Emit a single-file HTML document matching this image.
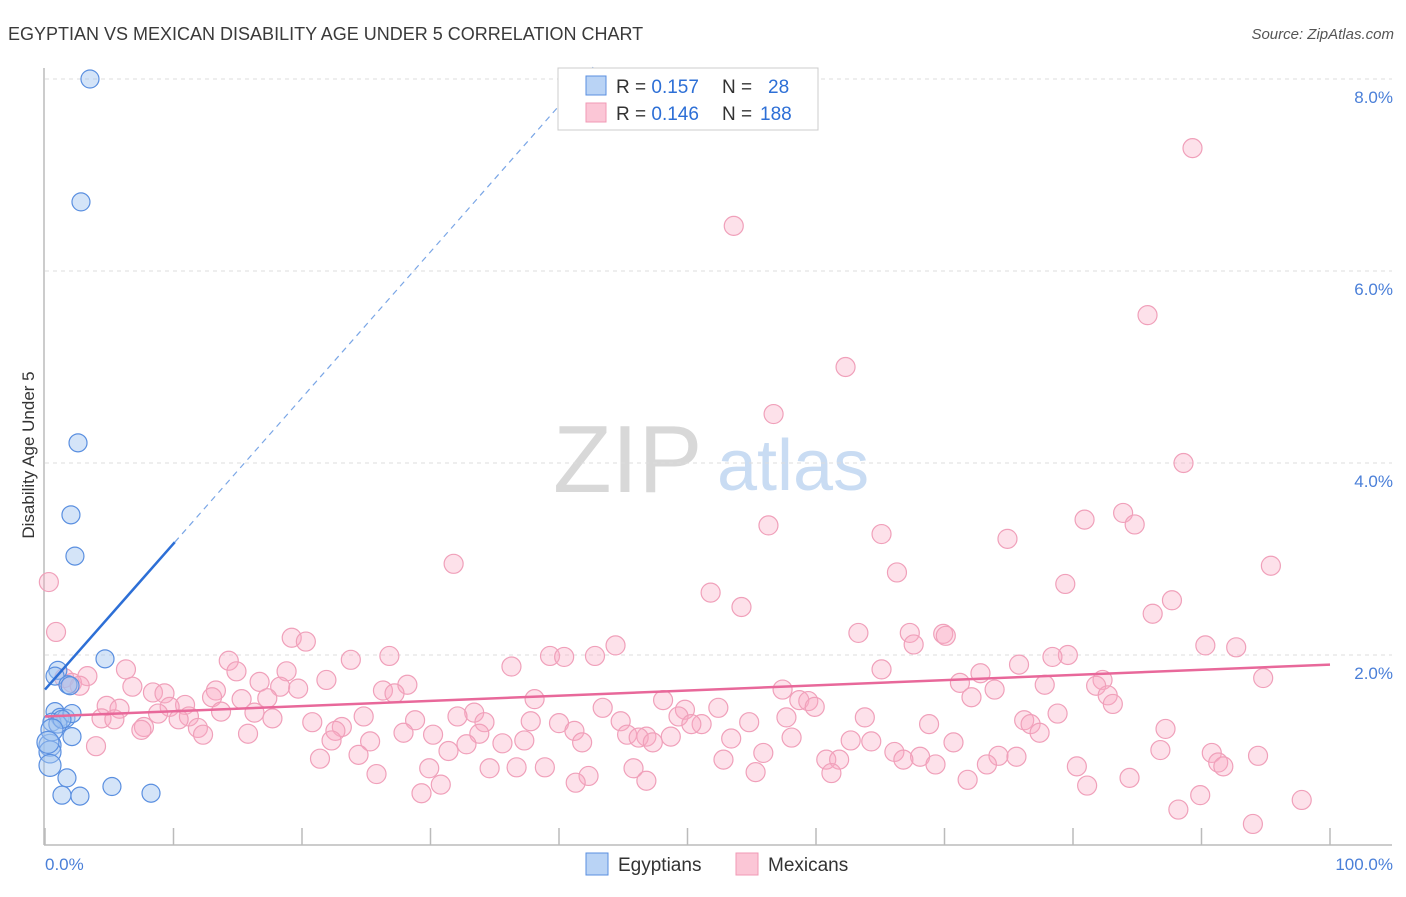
<!DOCTYPE html>
<html><head><meta charset="utf-8"><style>
body{margin:0;background:#fff;font-family:"Liberation Sans",sans-serif;}
svg text{font-family:"Liberation Sans",sans-serif;}
</style></head><body>
<svg id="chart" width="1406" height="892" viewBox="0 0 1406 892">
<text x="8" y="40" font-size="18" fill="#3a3a3a">EGYPTIAN VS MEXICAN DISABILITY AGE UNDER 5 CORRELATION CHART</text>
<text x="1394" y="39" font-size="15" fill="#555" font-style="italic" text-anchor="end">Source: ZipAtlas.com</text>
<g>
<text x="553" y="492" font-size="96" font-family="Liberation Serif,serif" fill="#d8d8d8">ZIP</text>
<text x="717" y="490" font-size="72" fill="#c9dcf3">atlas</text>
</g>
<g id="grid"></g>
<g id="axes">
<line x1="44" y1="68" x2="44" y2="845" stroke="#bbb" stroke-width="1.5"/>
<line x1="44" y1="845" x2="1392" y2="845" stroke="#bbb" stroke-width="1.5"/>
</g>
<g id="ticks"></g>
<g id="ylabels"></g>
<text x="45" y="870" font-size="17" fill="#4a7fd8">0.0%</text>
<text x="1393" y="870" font-size="17" fill="#4a7fd8" text-anchor="end">100.0%</text>
<text transform="translate(34,455) rotate(-90)" font-size="17" fill="#333" text-anchor="middle">Disability Age Under 5</text>
<g id="mex"></g>
<g id="egy"></g>
<g id="lines"></g>
<g>
<rect x="558" y="68" width="260" height="62" fill="#fff" stroke="#ccc"/>
<rect x="586" y="76" width="20" height="19" fill="#b9d3f5" stroke="#5a8fe0"/>
<rect x="586" y="103" width="20" height="19" fill="#fbc6d6" stroke="#f09ab5"/>
<text x="616" y="93" font-size="19" fill="#333">R = <tspan fill="#2d6fd6">0.157</tspan><tspan x="722">N = </tspan><tspan x="768" fill="#2d6fd6">28</tspan></text>
<text x="616" y="120" font-size="19" fill="#333">R = <tspan fill="#2d6fd6">0.146</tspan><tspan x="722">N = </tspan><tspan x="760" fill="#2d6fd6">188</tspan></text>
</g>
<g>
<rect x="586" y="853" width="22" height="22" fill="#b9d3f5" stroke="#5a8fe0"/>
<text x="618" y="871" font-size="19" fill="#333">Egyptians</text></g>
<g>
<rect x="736" y="853" width="22" height="22" fill="#fbc6d6" stroke="#f09ab5"/>
<text x="768" y="871" font-size="19" fill="#333">Mexicans</text></g>
</svg>
<script>
const yTicks=[2,4,6,8];
const yTickLabels=["2.0%","4.0%","6.0%","8.0%"];
const xTicks=[0,10,20,30,40,50,60,70,80,90,100];
const egyX=[3.5,2.8,2.57,2.02,2.33,4.67,1.0,0.78,1.79,1.95,0.78,1.17,1.63,2.1,0.54,1.0,1.32,0.39,2.1,0.39,0.39,1.71,1.32,2.72,5.21,8.25,0.54,0.23];
const egyY=[8.0,6.72,4.21,3.46,3.03,1.96,1.84,1.78,1.69,1.68,1.41,1.35,1.34,1.39,1.30,1.28,1.33,1.06,1.15,0.99,0.85,0.72,0.54,0.53,0.63,0.56,1.22,1.09];
const mexX=[89.3,53.6,85.8,62.3,56.7,88.6,83.9,84.8,80.9,56.3,65.1,74.9,31.8,95.4,66.3,0.3,79.4,51.8,87.7,54.2,86.2,0.86,63.3,67.3,69.9,70.1,19.2,20.3,67.6,44.4,90.3,92.7,79.6,39.3,40.4,42.8,26.8,78.4,23.8,14.3,75.8,6.3,14.9,18.8,36.3,65.1,72.8,3.3,1.5,2.1,2.7,82.3,94.8,16.7,21.9,28.2,71.2,77.8,81.8,6.8,18.3,19.7,13.3,26.3,27.2,8.4,9.3,13.0,15.3,73.9,57.4,72.1,82.7,17.3,38.1,48.1,58.7,59.4,83.1,10.9,4.8,9.7,52.4,59.9,5.8,49.8,43.4,33.4,13.7,8.8,16.3,32.1,24.8,78.8,63.8,11.2,49.3,57.7,4.4,5.4,10.4,17.7,76.2,76.7,28.8,34.2,37.8,40.0,44.8,51.1,54.8,68.8,20.8,23.1,7.7,22.6,7.5,50.3,11.9,87.2,41.2,33.8,77.4,12.3,30.2,45.3,15.8,46.8,27.9,46.2,53.4,58.1,48.7,62.7,64.3,37.3,70.7,25.3,22.3,35.6,41.8,32.8,47.3,3.97,31.4,66.1,86.8,55.9,90.8,24.4,74.2,75.6,68.1,94.4,21.4,60.8,66.8,52.8,61.8,69.3,73.3,91.3,80.3,91.7,29.9,34.6,36.7,38.9,45.8,61.2,55.3,25.8,42.3,84.4,71.8,46.8,41.3,30.8,81.1,29.3,89.9,97.8,88.2,94.0];
const mexY=[7.28,6.47,5.54,5.0,4.51,4.0,3.48,3.36,3.41,3.35,3.26,3.21,2.95,2.93,2.86,2.76,2.74,2.65,2.57,2.5,2.43,2.24,2.23,2.23,2.22,2.2,2.18,2.14,2.11,2.1,2.1,2.08,2.0,1.99,1.98,1.99,1.99,1.98,1.95,1.94,1.9,1.85,1.83,1.83,1.88,1.85,1.81,1.78,1.76,1.71,1.68,1.74,1.76,1.72,1.74,1.69,1.71,1.69,1.68,1.67,1.67,1.65,1.63,1.63,1.6,1.61,1.6,1.56,1.54,1.64,1.64,1.56,1.58,1.55,1.54,1.53,1.53,1.52,1.49,1.48,1.47,1.46,1.45,1.46,1.44,1.43,1.45,1.4,1.41,1.39,1.4,1.36,1.36,1.39,1.35,1.36,1.36,1.35,1.34,1.33,1.33,1.34,1.32,1.28,1.32,1.3,1.31,1.29,1.31,1.28,1.3,1.28,1.3,1.25,1.25,1.21,1.22,1.28,1.24,1.23,1.21,1.18,1.19,1.17,1.17,1.17,1.18,1.15,1.19,1.14,1.13,1.14,1.15,1.11,1.1,1.11,1.09,1.1,1.11,1.08,1.09,1.07,1.09,1.05,1.0,0.99,1.01,0.98,0.98,0.96,0.95,0.94,0.94,0.95,0.92,0.91,0.91,0.91,0.91,0.86,0.86,0.88,0.84,0.84,0.82,0.82,0.83,0.83,0.82,0.77,0.78,0.76,0.74,0.72,0.7,0.69,0.67,0.65,0.64,0.56,0.54,0.49,0.39,0.24];
const egyTrend=[1.64,0.152]; // intercept, slope
const mexTrend=[1.36,0.0054];
const egySolidEnd=10.1;

const NS="http://www.w3.org/2000/svg";
const xs=v=>45+v*12.85;
const ys=v=>847-v*96;
function mk(tag,attrs,parent){const e=document.createElementNS(NS,tag);for(const k in attrs)e.setAttribute(k,attrs[k]);parent.appendChild(e);return e;}
const grid=document.getElementById('grid'),ticks=document.getElementById('ticks'),yl=document.getElementById('ylabels');
yTicks.forEach((t,i)=>{
 const l=mk('line',{x1:45,x2:1392,y1:ys(t),y2:ys(t),stroke:'#ddd','stroke-dasharray':'4,4'},grid);
 
 
 const tx=mk('text',{x:1393,y:ys(t)+24,'font-size':17,fill:'#4a7fd8','text-anchor':'end'},yl);
 tx.textContent=yTickLabels[i];
 
 
});
xTicks.forEach(t=>{
 const l=mk('line',{x1:xs(t),x2:xs(t),y1:828,y2:845,stroke:'#bbb','stroke-width':1.5},ticks);
 
 
});
const mex=document.getElementById('mex');
mexX.forEach((x,i)=>{
 const c=mk('circle',{cx:xs(x),cy:ys(mexY[i]),r:9.5,fill:'rgba(248,170,195,0.35)',stroke:'#f0a0ba','stroke-width':1.2},mex);
 
 
});
const egy=document.getElementById('egy');
egyX.forEach((x,i)=>{
 const c=mk('circle',{cx:xs(x),cy:ys(egyY[i]),r:(x<1&&egyY[i]<1.3)?11:9,fill:'rgba(160,196,240,0.45)',stroke:'#5a8fe0','stroke-width':1.2},egy);
 
 
});
const lines=document.getElementById('lines');
const eEndX=(8.15-egyTrend[0])/egyTrend[1];
let l1=mk('line',{x1:xs(0),y1:ys(egyTrend[0]),x2:xs(egySolidEnd),y2:ys(egyTrend[0]+egyTrend[1]*egySolidEnd),stroke:'#2d6fd6','stroke-width':2.5},lines);


let l2=mk('line',{x1:xs(egySolidEnd),y1:ys(egyTrend[0]+egyTrend[1]*egySolidEnd),x2:xs(eEndX),y2:ys(egyTrend[0]+egyTrend[1]*eEndX),stroke:'#7aa6e6','stroke-width':1.2,'stroke-dasharray':'6,5'},lines);


let l3=mk('line',{x1:xs(0),y1:ys(mexTrend[0]),x2:xs(100),y2:ys(mexTrend[0]+mexTrend[1]*100),stroke:'#e8689a','stroke-width':2.5},lines);


</script>
</body></html>
